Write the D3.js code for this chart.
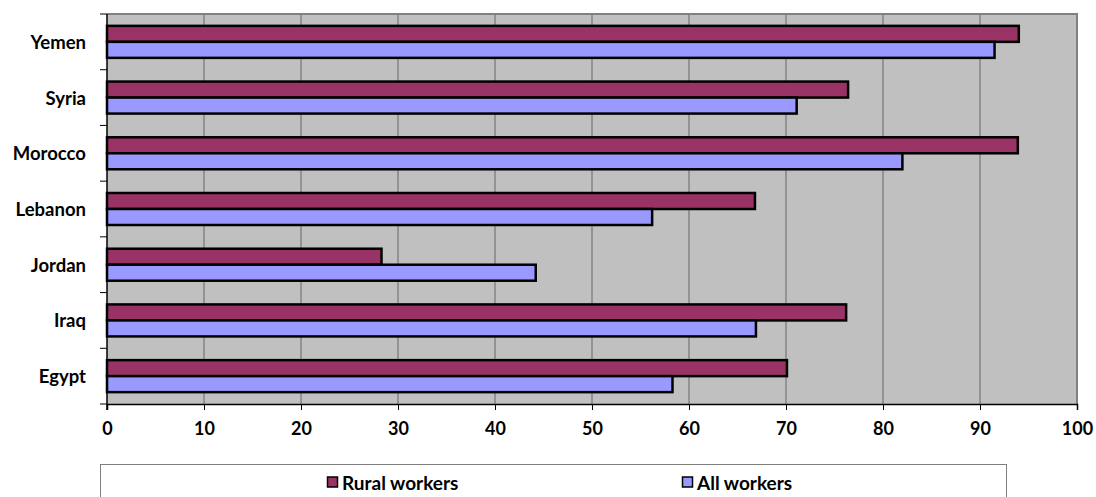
<!DOCTYPE html>
<html>
<head>
<meta charset="utf-8">
<script src="https://cdn.jsdelivr.net/npm/d3@7"></script>
<style>
  html, body { margin: 0; padding: 0; background: #ffffff; }
  svg { display: block; }
  text { font-family: Lato, "Open Sans", sans-serif; font-weight: bold; fill: #000; }
</style>
</head>
<body>
<svg id="chart" width="1096" height="497"></svg>
<script>
// Share of workers (%), by country
const categories = ["Yemen", "Syria", "Morocco", "Lebanon", "Jordan", "Iraq", "Egypt"];
const seriesNames = ["Rural workers", "All workers"];
const ruralWorkers = [94.0, 76.4, 93.9, 66.8, 28.3, 76.2, 70.1];
const allWorkers   = [91.5, 71.1, 82.0, 56.2, 44.2, 66.9, 58.3];
const xTicks = [0, 10, 20, 30, 40, 50, 60, 70, 80, 90, 100];
const colors = ["#993366", "#9999ff"];

const fontSize = "18.5px";
const svg = d3.select("#chart");
const plot = { left: 107, right: 1077, top: 14, bottom: 404 };

const x = d3.scaleLinear().domain([0, 100]).range([plot.left, plot.right]);
const y = d3.scaleBand().domain(categories)
  .range([plot.top, plot.bottom])
  .paddingInner(0.4256).paddingOuter(0.2128);
const ySub = d3.scaleBand().domain(seriesNames).range([0, y.bandwidth()]);

// plot background
svg.append("rect")
  .attr("x", plot.left).attr("y", plot.top)
  .attr("width", plot.right - plot.left).attr("height", plot.bottom - plot.top)
  .attr("fill", "#c0c0c0");

// vertical gridlines
svg.append("g").selectAll("line").data(xTicks.slice(1, -1)).join("line")
  .attr("x1", d => x(d)).attr("x2", d => x(d))
  .attr("y1", plot.top).attr("y2", plot.bottom)
  .attr("stroke", "#666").attr("stroke-width", 1);

// plot frame (top and right)
svg.append("path")
  .attr("d", `M${plot.left},${plot.top}H${plot.right}V${plot.bottom}`)
  .attr("fill", "none").attr("stroke", "#808080").attr("stroke-width", 2);

// bars
const rows = categories.map((c, i) => ({ cat: c, vals: [ruralWorkers[i], allWorkers[i]] }));
const groups = svg.append("g").selectAll("g").data(rows).join("g")
  .attr("transform", d => `translate(0,${y(d.cat)})`);
groups.selectAll("rect").data(d => d.vals.map((v, j) => ({ v, s: seriesNames[j], j }))).join("rect")
  .attr("x", x(0))
  .attr("y", d => ySub(d.s))
  .attr("width", d => x(d.v) - x(0))
  .attr("height", ySub.bandwidth())
  .attr("fill", d => colors[d.j])
  .attr("stroke", "#000").attr("stroke-width", 2.5);

// x axis
const xAxis = d3.axisBottom(x).tickValues(xTicks).tickSize(6).tickPadding(12);
const gx = svg.append("g").attr("transform", `translate(0,${plot.bottom})`).call(xAxis);
gx.select(".domain").attr("stroke", "#000").attr("stroke-width", 1.5);
gx.selectAll(".tick line").attr("stroke", "#000");
gx.selectAll(".tick text").style("font-size", "18px").attr("fill", "#000")
  .style("font-family", "Lato, sans-serif").style("font-weight", "bold");

// y axis: ticks at category boundaries, labels at category centres
const yAxisLine = svg.append("g");
yAxisLine.append("line")
  .attr("x1", plot.left).attr("x2", plot.left)
  .attr("y1", plot.top).attr("y2", plot.bottom + 6)
  .attr("stroke", "#000").attr("stroke-width", 1.5);
const boundaries = d3.range(categories.length + 1).map(i => plot.top + i * (plot.bottom - plot.top) / categories.length);
yAxisLine.selectAll("line.tick").data(boundaries).join("line").attr("class", "tick")
  .attr("x1", plot.left - 7).attr("x2", plot.left)
  .attr("y1", d => d).attr("y2", d => d)
  .attr("stroke", "#000").attr("stroke-width", 1);
svg.append("g").selectAll("text").data(categories).join("text")
  .attr("x", 86)
  .attr("y", d => y(d) + y.bandwidth() / 2)
  .attr("text-anchor", "end")
  .attr("dominant-baseline", "central")
  .style("font-size", fontSize)
  .text(d => d);

// legend
const legend = svg.append("g");
legend.append("rect")
  .attr("x", 100.5).attr("y", 464.5).attr("width", 906).attr("height", 40)
  .attr("fill", "#fff").attr("stroke", "#808080").attr("stroke-width", 1);
const legendX = [327, 682];
const items = legend.selectAll("g").data(seriesNames).join("g")
  .attr("transform", (d, i) => `translate(${legendX[i]},482)`);
items.append("rect")
  .attr("x", 0.5).attr("y", -5).attr("width", 10).attr("height", 10)
  .attr("fill", (d, i) => colors[i]).attr("stroke", "#000").attr("stroke-width", 1.5);
items.append("text")
  .attr("x", 15).attr("y", 0)
  .attr("dominant-baseline", "central")
  .style("font-size", "19px")
  .text(d => d);
</script>
</body>
</html>
